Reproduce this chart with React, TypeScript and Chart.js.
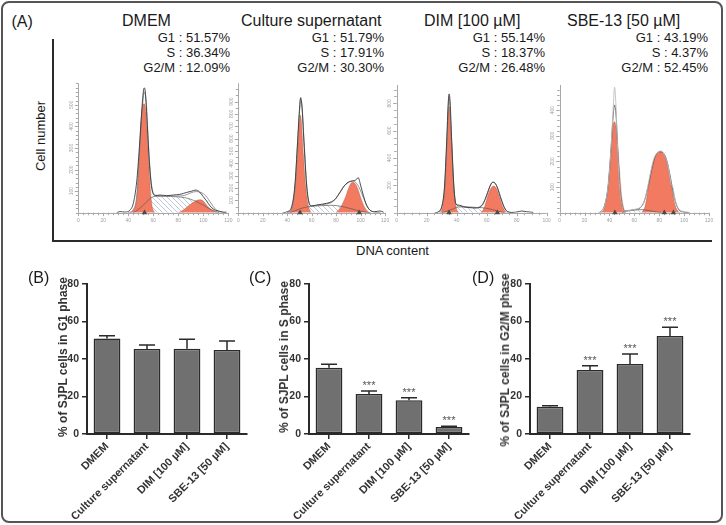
import React, { useEffect, useRef } from 'react';
import { Chart, registerables } from 'chart.js';
Chart.register(...registerables);

const FONT = "'Liberation Sans', Arial, Helvetica, sans-serif";
const SALMON = '#f27a60';

// ---------- Panel A text ----------
const panelTitles = ['DMEM', 'Culture supernatant', 'DIM [100 µM]', 'SBE-13 [50 µM]'];
const g1Pct = ['51.57%', '51.79%', '55.14%', '43.19%'];
const sPct = ['36.34%', '17.91%', '18.37%', '4.37%'];
const g2mPct = ['12.09%', '30.30%', '26.48%', '52.45%'];

// ---------- Panel A histograms: [DNA content, cell count] ----------
const p1Raw = [[30.7,0],[33.3,5],[37.3,3],[41.3,12],[44,43],[46.7,143],[48.8,297],[50.7,467],[52,559],[52.8,579],[53.6,559],[55.2,405],[56.8,236],[58.4,128],[60,86],[61.6,79],[65.3,82],[70.7,79],[76,82],[81.3,85],[86.7,94],[90.7,100],[94.1,105],[96.8,97],[100,74],[102.7,54],[105.3,32],[108.5,15],[112,8],[116,3],[118.7,2]];
const p1Fit = [[40,0],[44,15],[47,80],[49,280],[51,470],[52.8,560],[54.5,500],[56,330],[58,160],[60,92],[63,80],[70,77],[78,77],[85,80],[90,92],[94,98],[98,94],[102,78],[106,45],[110,15],[114,3],[118,0]];
const p1G1 = [[40.8,0],[44,12],[46.7,82],[48.5,251],[50.1,420],[51.7,500],[52.5,505],[53.6,490],[54.9,390],[56.3,236],[57.6,112],[58.9,35],[60.5,5],[61.6,0]];
const p1G2 = [[80,0],[84,12],[88,31],[92,48],[95.5,59],[97.9,60],[100,54],[102.7,35],[105.3,20],[108.5,8],[111.2,0]];
const p1S = [[44,0],[48,15],[52,35],[56,58],[59,72],[62,76],[70,76],[78,74],[85,70],[90,62],[95,50],[100,35],[105,18],[110,5],[113,0]];
const p1Marks = [[53,0]];

const p2Raw = [[36.8,0],[40,8],[43.6,49],[46.3,224],[48.5,575],[49.9,818],[51,932],[52,872],[53.7,575],[55.9,224],[58,76],[59.9,54],[64,62],[68.1,68],[72.2,76],[76.3,89],[79.8,116],[83.1,165],[87.2,224],[90.7,251],[93.5,257],[96.2,265],[98.1,284],[100,224],[102.2,143],[104.9,62],[107.6,22],[111.7,8],[115.8,14],[119,3]];
const p2Fit = [[40,0],[44,40],[46.5,220],[48.5,560],[50,800],[51,915],[52.2,850],[54,540],[56,210],[58,75],[60,56],[66,62],[72,70],[78,95],[83,160],[87,220],[91,250],[93.5,258],[96,245],[99,200],[102,130],[105,60],[108,18],[112,4],[116,0]];
const p2G1 = [[40,0],[43.6,35],[46.3,197],[48.5,494],[49.9,737],[50.7,791],[51.5,751],[53.1,494],[55,224],[57.2,62],[59.1,8],[60.2,0]];
const p2G2 = [[79.8,0],[83.1,35],[87.2,116],[90.7,211],[93.2,246],[95.4,238],[98.1,184],[100.8,103],[103.5,41],[106.3,8],[107.6,0]];
const p2S = [[42,0],[46,15],[50,30],[54,42],[58,50],[64,55],[70,58],[76,60],[80,58],[85,50],[90,38],[95,25],[100,12],[105,3],[108,0]];
const p2Marks = [[50.5,0],[98.9,0]];

const p3Raw = [[25.6,0],[27.8,7],[30,44],[31.8,178],[33.3,520],[34.4,812],[34.9,869],[35.6,812],[36.7,520],[38.2,178],[39.6,61],[41.1,56],[42.9,51],[45.6,41],[48.9,37],[52.2,34],[55.6,41],[57.8,68],[60,129],[62.2,195],[63.8,222],[65.6,215],[67.3,178],[69.6,100],[71.8,37],[74,7],[76.7,2],[80,5],[83.3,12],[86.7,7],[91.1,2]];
const p3Fit = [[27,0],[30,40],[32,200],[33.5,530],[34.9,850],[36.2,600],[38,200],[39.6,62],[42,48],[48,40],[54,38],[57,60],[60,125],[62.5,200],[64.5,225],[66.5,200],[69,120],[71.5,45],[74,8],[78,0]];
const p3G1 = [[28.4,0],[30.4,32],[32.2,203],[33.6,544],[34.4,752],[34.9,776],[35.6,740],[36.7,495],[38.2,178],[39.8,32],[41.6,0]];
const p3G2 = [[56.2,0],[58.2,32],[60.2,105],[62.4,171],[64.7,195],[66.4,178],[68.4,117],[70.4,51],[72.7,7],[74,0]];
const p3S = [[30,0],[34,12],[38,30],[41,42],[45,42],[50,40],[55,38],[60,32],[64,22],[68,10],[72,0]];
const p3Marks = [[34.9,0],[67.1,0]];

const p4Raw = [[30.9,0],[33.6,7],[36.3,30],[39,108],[41.1,238],[43,407],[44.1,489],[45.2,420],[46.5,251],[48.4,82],[50.3,23],[52.4,7],[56.5,9],[60.5,13],[64.5,20],[67.2,36],[69.9,82],[72.6,147],[75.3,205],[77.9,231],[81.5,241],[84.1,225],[86.3,199],[87.9,160],[89.5,114],[90.9,101],[92.7,53],[95.4,17],[98.1,7],[102.2,3],[104.8,0]];
const p4Fit = [[32,0],[36,28],[39,105],[41.2,240],[43,380],[44.1,420],[45.3,380],[46.7,240],[48.5,85],[50.5,22],[53,8],[60,12],[65,20],[68,45],[71,100],[74,170],[77,222],[80,238],[83,234],[86,205],[88.5,150],[91,85],[93.5,35],[96,10],[100,2],[104,0]];
const p4G1 = [[33.1,0],[35.8,17],[38.4,88],[40.6,212],[42.5,329],[44.1,355],[45.7,322],[47.6,199],[49.7,69],[51.9,10],[53.2,0]];
const p4G2 = [[65.9,0],[68.5,23],[71.2,95],[73.9,173],[76.6,218],[79.3,235],[82,238],[84.7,218],[87.4,166],[90.1,95],[92.7,30],[95.4,4],[96.8,0]];
const p4S = [[50,0],[54,6],[60,10],[66,12],[72,8],[78,3],[82,0]];
const p4Marks = [[44.4,0],[84.1,0],[91.4,0]];

const histXLabels120 = [0, 20, 40, 60, 80, 100, 120];
const histXLabels100 = [0, 20, 40, 60, 80, 100];
const p1YLabels = [100, 200, 300, 400, 500];
const p2YLabels = [100, 200, 300, 400, 500, 600, 700, 800, 900];
const p3YLabels = [200, 400, 600, 800];
const p4YLabels = [100, 200, 300, 400];

// ---------- Panels B-D ----------
const categories = ['DMEM', 'Culture supernatant', 'DIM [100 µM]', 'SBE-13 [50 µM]'];
const g1Mean = [51.0, 45.3, 45.5, 44.8];
const g1Sem = [1.4, 2.2, 5.0, 4.8];
const sMean = [35.4, 21.3, 18.0, 3.7];
const sSem = [1.8, 1.6, 1.4, 0.4];
const g2mMean = [14.6, 34.1, 37.3, 52.3];
const g2mSem = [0.5, 2.3, 5.4, 4.6];
const g1Stars = ['', '', '', ''];
const sStars = ['', '***', '***', '***'];
const g2mStars = ['', '***', '***', '***'];
const barTicks = [0, 20, 40, 60, 80];

type Pad = { left: number; top: number; right: number; bottom: number };
type HistCfg = {
  left: number; top: number; width: number; height: number; pad: Pad;
  xMax: number; yMax: number; xLabels: number[]; yLabels: number[]; xMinor: number; yMinor: number;
  raw: number[][]; fit: number[][]; g1: number[][]; g2: number[][]; s: number[][]; marks: number[][];
  rawColor: string; fitColor: string;
};

const hists: HistCfg[] = [
  { left: 58, top: 78, width: 180, height: 152, pad: { left: 20.3, top: 5.3, right: 9.7, bottom: 17.3 }, xMax: 120, yMax: 600, xLabels: histXLabels120, yLabels: p1YLabels, xMinor: 4, yMinor: 20, raw: p1Raw, fit: p1Fit, g1: p1G1, g2: p1G2, s: p1S, marks: p1Marks, rawColor: '#3a3a3a', fitColor: '#8a8a8a' },
  { left: 220, top: 78, width: 175, height: 152, pad: { left: 18.3, top: 5.3, right: 10, bottom: 17.3 }, xMax: 120, yMax: 1048, xLabels: histXLabels120, yLabels: p2YLabels, xMinor: 4, yMinor: 50, raw: p2Raw, fit: p2Fit, g1: p2G1, g2: p2G2, s: p2S, marks: p2Marks, rawColor: '#3a3a3a', fitColor: '#8a8a8a' },
  { left: 378, top: 78, width: 178, height: 152, pad: { left: 18.7, top: 7, right: 9.3, bottom: 17.3 }, xMax: 100, yMax: 934, xLabels: histXLabels100, yLabels: p3YLabels, xMinor: 5, yMinor: 50, raw: p3Raw, fit: p3Fit, g1: p3G1, g2: p3G2, s: p3S, marks: p3Marks, rawColor: '#3a3a3a', fitColor: '#8a8a8a' },
  { left: 541, top: 78, width: 178, height: 152, pad: { left: 18.7, top: 7, right: 10, bottom: 17.3 }, xMax: 120, yMax: 498, xLabels: histXLabels120, yLabels: p4YLabels, xMinor: 4, yMinor: 20, raw: p4Raw, fit: p4Fit, g1: p4G1, g2: p4G2, s: p4S, marks: p4Marks, rawColor: '#bdbdbd', fitColor: '#555555' },
];

function makeHatch(): CanvasPattern | string {
  const c = document.createElement('canvas');
  c.width = 5; c.height = 5;
  const g = c.getContext('2d');
  if (!g) return '#e6ebf0';
  g.fillStyle = '#ffffff';
  g.fillRect(0, 0, 5, 5);
  g.strokeStyle = '#a3b2c6';
  g.lineWidth = 0.7;
  g.beginPath();
  g.moveTo(0, 0); g.lineTo(5, 5);
  g.moveTo(-1, 4); g.lineTo(1, 6);
  g.moveTo(4, -1); g.lineTo(6, 1);
  g.stroke();
  return g.createPattern(c, 'repeat') || '#e6ebf0';
}

const pts = (a: number[][]) => a.map(([x, y]) => ({ x, y }));

function Histogram({ cfg }: { cfg: HistCfg }) {
  const ref = useRef<HTMLCanvasElement>(null);
  useEffect(() => {
    const hatch = makeHatch();
    const axes = {
      id: 'histAxes',
      beforeDatasetsDraw(chart: any) {
        const { ctx, chartArea: a, scales } = chart;
        const x = scales.x, y = scales.y;
        ctx.save();
        ctx.strokeStyle = '#a8a8a8';
        ctx.lineWidth = 1;
        ctx.beginPath();
        ctx.moveTo(Math.round(a.left) + 0.5, a.top);
        ctx.lineTo(Math.round(a.left) + 0.5, a.bottom);
        ctx.moveTo(a.left, Math.round(a.bottom) + 0.5);
        ctx.lineTo(a.right, Math.round(a.bottom) + 0.5);
        ctx.stroke();
        ctx.beginPath();
        for (let v = 0; v <= cfg.xMax + 1e-6; v += cfg.xMinor) {
          const px = Math.round(x.getPixelForValue(v)) + 0.5;
          const major = cfg.xLabels.indexOf(v) >= 0;
          ctx.moveTo(px, a.bottom);
          ctx.lineTo(px, a.bottom + (major ? 3.5 : 2.5));
        }
        for (let v = 0; v <= cfg.yMax + 1e-6; v += cfg.yMinor) {
          const py = Math.round(y.getPixelForValue(v)) + 0.5;
          const major = cfg.yLabels.indexOf(v) >= 0;
          ctx.moveTo(a.left, py);
          ctx.lineTo(a.left - (major ? 3.5 : 2.5), py);
        }
        ctx.stroke();
        ctx.fillStyle = '#a0a0a0';
        ctx.font = `5px ${FONT}`;
        ctx.textAlign = 'center';
        ctx.textBaseline = 'middle';
        cfg.xLabels.forEach((v) => ctx.fillText(String(v), x.getPixelForValue(v), a.bottom + 8));
        cfg.yLabels.forEach((v) => {
          ctx.save();
          ctx.translate(a.left - 7, y.getPixelForValue(v));
          ctx.rotate(-Math.PI / 2);
          ctx.fillText(String(v), 0, 0);
          ctx.restore();
        });
        ctx.restore();
      },
    };
    const line = (data: number[][], color: string, w: number, order: number) => ({
      data: pts(data), borderColor: color, borderWidth: w, pointRadius: 0, fill: false, order,
      cubicInterpolationMode: 'monotone' as const,
    });
    const chart = new Chart(ref.current as HTMLCanvasElement, {
      type: 'line',
      data: {
        datasets: [
          { data: pts(cfg.marks), showLine: false, pointStyle: 'triangle', pointRadius: 3.2, pointBackgroundColor: '#4a4a4a', pointBorderColor: '#4a4a4a', pointBorderWidth: 0, order: 0, clip: false } as any,
          line(cfg.raw, cfg.rawColor, 0.9, 1),
          line(cfg.fit, cfg.fitColor, 0.9, 2),
          line(cfg.s, '#5a5a5a', 0.7, 3),
          { data: pts(cfg.g2), backgroundColor: SALMON, borderColor: 'rgba(140,70,55,0.5)', borderWidth: 0.6, pointRadius: 0, fill: 'origin', order: 4, cubicInterpolationMode: 'monotone' },
          { data: pts(cfg.g1), backgroundColor: SALMON, borderColor: 'rgba(140,70,55,0.5)', borderWidth: 0.6, pointRadius: 0, fill: 'origin', order: 5, cubicInterpolationMode: 'monotone' },
          { data: pts(cfg.s), backgroundColor: hatch as any, borderWidth: 0, pointRadius: 0, fill: 'origin', order: 6, cubicInterpolationMode: 'monotone' },
        ],
      },
      options: {
        animation: false,
        responsive: false,
        events: [],
        layout: { padding: cfg.pad },
        scales: {
          x: { type: 'linear', min: 0, max: cfg.xMax, display: false },
          y: { type: 'linear', min: 0, max: cfg.yMax, display: false },
        },
        plugins: { legend: { display: false }, tooltip: { enabled: false } },
      },
      plugins: [axes],
    });
    return () => chart.destroy();
  }, [cfg]);
  return (
    <canvas ref={ref} width={cfg.width} height={cfg.height}
      style={{ position: 'absolute', left: cfg.left, top: cfg.top, width: cfg.width, height: cfg.height }} />
  );
}

type BarCfg = { left: number; top: number; width: number; height: number; padLeft: number; means: number[]; sems: number[]; stars: string[] };

const barPanels: BarCfg[] = [
  { left: 10, top: 262, width: 245, height: 263, padLeft: 45, means: g1Mean, sems: g1Sem, stars: g1Stars },
  { left: 240, top: 262, width: 237, height: 263, padLeft: 37, means: sMean, sems: sSem, stars: sStars },
  { left: 460, top: 262, width: 238, height: 263, padLeft: 38, means: g2mMean, sems: g2mSem, stars: g2mStars },
];

function BarPanel({ cfg }: { cfg: BarCfg }) {
  const ref = useRef<HTMLCanvasElement>(null);
  useEffect(() => {
    const errBars = {
      id: 'errBars',
      afterDatasetsDraw(chart: any) {
        const meta = chart.getDatasetMeta(0);
        const y = chart.scales.y;
        const ctx = chart.ctx;
        ctx.save();
        ctx.strokeStyle = '#2a2a2a';
        ctx.lineWidth = 1.5;
        meta.data.forEach((bar: any, i: number) => {
          const top = y.getPixelForValue(cfg.means[i] + cfg.sems[i]);
          const by = y.getPixelForValue(cfg.means[i]);
          ctx.beginPath();
          ctx.moveTo(bar.x, by);
          ctx.lineTo(bar.x, top);
          ctx.moveTo(bar.x - 8, top);
          ctx.lineTo(bar.x + 8, top);
          ctx.stroke();
          if (cfg.stars[i]) {
            ctx.fillStyle = '#555';
            ctx.font = `11px ${FONT}`;
            ctx.textAlign = 'center';
            ctx.textBaseline = 'alphabetic';
            ctx.fillText(cfg.stars[i], bar.x, top - 2);
          }
        });
        ctx.restore();
      },
    };
    const chart = new Chart(ref.current as HTMLCanvasElement, {
      type: 'bar',
      data: {
        labels: categories,
        datasets: [{ data: cfg.means, backgroundColor: '#707070', borderColor: '#2a2a2a', borderWidth: 1.5, borderSkipped: false, barPercentage: 0.67, categoryPercentage: 1 }],
      },
      options: {
        animation: false,
        responsive: false,
        events: [],
        layout: { padding: { left: cfg.padLeft, top: 22, right: 8, bottom: 0 } },
        scales: {
          x: {
            grid: { offset: false, drawOnChartArea: false, drawTicks: true, tickLength: 5, color: '#2a2a2a', lineWidth: 1.5 },
            border: { display: true, color: '#2a2a2a', width: 2 },
            ticks: { minRotation: 45, maxRotation: 45, autoSkip: false, padding: 1, color: '#333', font: { family: FONT, size: 11, weight: 'bold' } },
            afterFit: (s: any) => { s.height = 91; },
          },
          y: {
            min: 0, max: 80,
            afterBuildTicks: (s: any) => { s.ticks = barTicks.map((v) => ({ value: v })); },
            ticks: { color: '#333', padding: 3, font: { family: FONT, size: 10.5, weight: 'bold' } },
            grid: { drawOnChartArea: false, drawTicks: true, tickLength: 5, color: '#2a2a2a', lineWidth: 1.5 },
            border: { display: true, color: '#2a2a2a', width: 2 },
            afterFit: (s: any) => { s.width = 32; },
          },
        },
        plugins: { legend: { display: false }, tooltip: { enabled: false } },
      },
      plugins: [errBars],
    });
    return () => chart.destroy();
  }, [cfg]);
  return (
    <canvas ref={ref} width={cfg.width} height={cfg.height}
      style={{ position: 'absolute', left: cfg.left, top: cfg.top, width: cfg.width, height: cfg.height }} />
  );
}

const txt = (extra: React.CSSProperties): React.CSSProperties => ({
  position: 'absolute', whiteSpace: 'nowrap', fontFamily: FONT, color: '#1a1a1a', lineHeight: 1, ...extra,
});

const titleLefts = [122, 241, 424, 567];
const statRights = [230, 384, 545, 708];
const yTitles = ['% of SJPL cells in G1 phase', '% of SJPL cells in S phase', '% of SJPL cells in G2/M phase'];
const yTitlePos = [[63, 357], [283.5, 357], [505, 360]];
const panelLetters = [['(B)', 28, 269.5], ['(C)', 249, 269.5], ['(D)', 472, 269.5]];

export default function App() {
  return (
    <div style={{ position: 'absolute', left: 0, top: 0, width: 726, height: 525, background: '#fff', overflow: 'hidden' }}>
      <div style={{ position: 'absolute', left: 1, top: 1, width: 718, height: 518, border: '2px solid #555', borderRadius: 8 }} />
      <div style={txt({ left: 11.5, top: 14, fontSize: 16 })}>(A)</div>
      {panelTitles.map((t, i) => (
        <div key={t} style={txt({ left: titleLefts[i], top: 13.3, fontSize: 16 })}>{t}</div>
      ))}
      {panelTitles.map((t, i) => (
        <React.Fragment key={'s' + t}>
          <div style={txt({ right: 726 - statRights[i], top: 30.7, fontSize: 13, textAlign: 'right' })}>{'G1 : ' + g1Pct[i]}</div>
          <div style={txt({ right: 726 - statRights[i], top: 45.7, fontSize: 13, textAlign: 'right' })}>{'S : ' + sPct[i]}</div>
          <div style={txt({ right: 726 - statRights[i], top: 60.7, fontSize: 13, textAlign: 'right' })}>{'G2/M : ' + g2mPct[i]}</div>
        </React.Fragment>
      ))}
      <div style={{ position: 'absolute', left: 52, top: 39, width: 2, height: 203, background: '#2a2a2a' }} />
      <div style={{ position: 'absolute', left: 52, top: 240, width: 660, height: 2, background: '#2a2a2a' }} />
      <div style={txt({ left: 40, top: 136, fontSize: 13, transform: 'translate(-50%, -50%) rotate(-90deg)' })}>Cell number</div>
      <div style={txt({ left: 356, top: 244, fontSize: 13 })}>DNA content</div>
      {hists.map((h, i) => <Histogram key={i} cfg={h} />)}
      {barPanels.map((b, i) => <BarPanel key={i} cfg={b} />)}
      {yTitles.map((t, i) => (
        <div key={t} style={txt({ left: yTitlePos[i][0], top: yTitlePos[i][1], fontSize: 12, fontWeight: 'bold', color: '#333', transform: 'translate(-50%, -50%) rotate(-90deg)' })}>{t}</div>
      ))}
      {panelLetters.map(([t, l, tp]) => (
        <div key={String(t)} style={txt({ left: l as number, top: tp as number, fontSize: 16 })}>{t}</div>
      ))}
    </div>
  );
}
